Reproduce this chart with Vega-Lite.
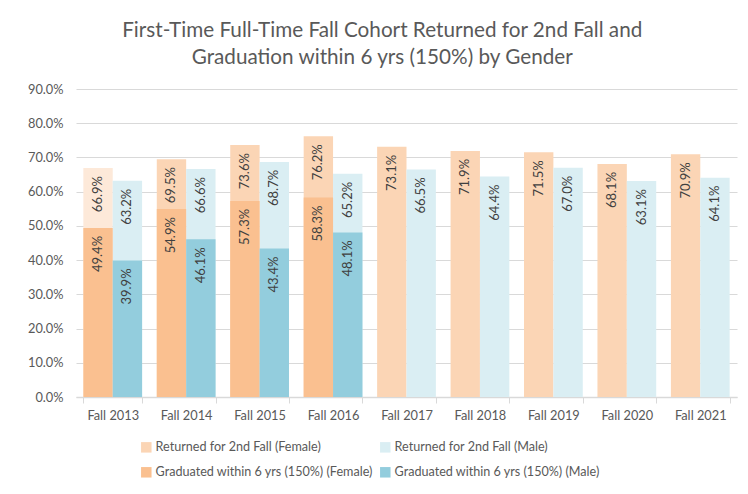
{
  "$schema": "https://vega.github.io/schema/vega-lite/v6.json",
  "autosize": "none",
  "width": 661,
  "height": 308,
  "padding": {"left": 76, "top": 89, "right": 11, "bottom": 97},
  "background": "white",
  "title": {
    "text": ["First-Time Full-Time Fall Cohort Returned for 2nd Fall and", "Graduation within 6 yrs (150%) by Gender"],
    "font": "Lato",
    "fontSize": 20.7,
    "fontWeight": "normal",
    "color": "#595959",
    "lineHeight": 27,
    "offset": 14,
    "anchor": "middle",
    "frame": "bounds"
  },
  "data": {
    "values": [
      {"year": "Fall 2013", "gender": "Female", "measure": "Returned", "series": "Returned for 2nd Fall (Female)", "value": 0.669},
      {"year": "Fall 2013", "gender": "Male", "measure": "Returned", "series": "Returned for 2nd Fall (Male)", "value": 0.632},
      {"year": "Fall 2013", "gender": "Female", "measure": "Graduated", "series": "Graduated within 6 yrs (150%) (Female)", "value": 0.494},
      {"year": "Fall 2013", "gender": "Male", "measure": "Graduated", "series": "Graduated within 6 yrs (150%) (Male)", "value": 0.399},
      {"year": "Fall 2014", "gender": "Female", "measure": "Returned", "series": "Returned for 2nd Fall (Female)", "value": 0.695},
      {"year": "Fall 2014", "gender": "Male", "measure": "Returned", "series": "Returned for 2nd Fall (Male)", "value": 0.666},
      {"year": "Fall 2014", "gender": "Female", "measure": "Graduated", "series": "Graduated within 6 yrs (150%) (Female)", "value": 0.549},
      {"year": "Fall 2014", "gender": "Male", "measure": "Graduated", "series": "Graduated within 6 yrs (150%) (Male)", "value": 0.461},
      {"year": "Fall 2015", "gender": "Female", "measure": "Returned", "series": "Returned for 2nd Fall (Female)", "value": 0.736},
      {"year": "Fall 2015", "gender": "Male", "measure": "Returned", "series": "Returned for 2nd Fall (Male)", "value": 0.687},
      {"year": "Fall 2015", "gender": "Female", "measure": "Graduated", "series": "Graduated within 6 yrs (150%) (Female)", "value": 0.573},
      {"year": "Fall 2015", "gender": "Male", "measure": "Graduated", "series": "Graduated within 6 yrs (150%) (Male)", "value": 0.434},
      {"year": "Fall 2016", "gender": "Female", "measure": "Returned", "series": "Returned for 2nd Fall (Female)", "value": 0.762},
      {"year": "Fall 2016", "gender": "Male", "measure": "Returned", "series": "Returned for 2nd Fall (Male)", "value": 0.652},
      {"year": "Fall 2016", "gender": "Female", "measure": "Graduated", "series": "Graduated within 6 yrs (150%) (Female)", "value": 0.583},
      {"year": "Fall 2016", "gender": "Male", "measure": "Graduated", "series": "Graduated within 6 yrs (150%) (Male)", "value": 0.481},
      {"year": "Fall 2017", "gender": "Female", "measure": "Returned", "series": "Returned for 2nd Fall (Female)", "value": 0.731},
      {"year": "Fall 2017", "gender": "Male", "measure": "Returned", "series": "Returned for 2nd Fall (Male)", "value": 0.665},
      {"year": "Fall 2018", "gender": "Female", "measure": "Returned", "series": "Returned for 2nd Fall (Female)", "value": 0.719},
      {"year": "Fall 2018", "gender": "Male", "measure": "Returned", "series": "Returned for 2nd Fall (Male)", "value": 0.644},
      {"year": "Fall 2019", "gender": "Female", "measure": "Returned", "series": "Returned for 2nd Fall (Female)", "value": 0.715},
      {"year": "Fall 2019", "gender": "Male", "measure": "Returned", "series": "Returned for 2nd Fall (Male)", "value": 0.670},
      {"year": "Fall 2020", "gender": "Female", "measure": "Returned", "series": "Returned for 2nd Fall (Female)", "value": 0.681},
      {"year": "Fall 2020", "gender": "Male", "measure": "Returned", "series": "Returned for 2nd Fall (Male)", "value": 0.631},
      {"year": "Fall 2021", "gender": "Female", "measure": "Returned", "series": "Returned for 2nd Fall (Female)", "value": 0.709},
      {"year": "Fall 2021", "gender": "Male", "measure": "Returned", "series": "Returned for 2nd Fall (Male)", "value": 0.641}
    ]
  },
  "encoding": {
    "x": {
      "field": "year",
      "type": "nominal",
      "sort": null,
      "scale": {"paddingInner": 0.2, "paddingOuter": 0.1},
      "axis": {
        "title": null,
        "labelAngle": 0,
        "labelFont": "Lato",
        "labelFontSize": 12.8,
        "labelColor": "#595959",
        "labelPadding": 6,
        "tickBand": "extent",
        "tickColor": "#D9D9D9",
        "tickSize": 6,
        "domainColor": "#D9D9D9",
        "domainWidth": 1.5,
        "grid": false
      }
    },
    "xOffset": {
      "field": "gender",
      "type": "nominal",
      "sort": ["Female", "Male"],
      "scale": {"paddingInner": 0, "paddingOuter": 0}
    },
    "y": {
      "field": "value",
      "type": "quantitative",
      "scale": {"domain": [0, 0.9]},
      "axis": {
        "title": null,
        "format": ".1%",
        "values": [0, 0.1, 0.2, 0.3, 0.4, 0.5, 0.6, 0.7, 0.8, 0.9],
        "labelFont": "Lato",
        "labelFontSize": 12.8,
        "labelColor": "#595959",
        "labelPadding": 13,
        "ticks": false,
        "domain": false,
        "gridColor": "#D9D9D9",
        "gridWidth": 1
      }
    }
  },
  "layer": [
    {
      "transform": [{"filter": "datum.measure === 'Returned'"}],
      "mark": {"type": "bar"},
      "encoding": {
        "color": {
          "condition": {"test": "datum.year === 'Fall 2013' && datum.gender === 'Female'", "value": "#FDE9D9"},
          "field": "series",
          "type": "nominal",
          "scale": {
            "domain": ["Returned for 2nd Fall (Female)", "Returned for 2nd Fall (Male)", "Graduated within 6 yrs (150%) (Female)", "Graduated within 6 yrs (150%) (Male)"],
            "range": ["#FBD5B5", "#DAEEF3", "#FAC090", "#93CDDD"]
          },
          "legend": {
            "title": null,
            "orient": "none",
            "legendX": 64,
            "legendY": 352,
            "direction": "horizontal",
            "columns": 2,
            "columnPadding": 6,
            "rowPadding": 12,
            "symbolType": "square",
            "symbolSize": 110,
            "symbolStrokeWidth": 0,
            "labelFont": "Lato",
            "labelFontSize": 12.6,
            "labelColor": "#595959",
            "labelLimit": 400,
            "labelOffset": 3
          }
        }
      }
    },
    {
      "transform": [{"filter": "datum.measure === 'Graduated'"}],
      "mark": {"type": "bar"},
      "encoding": {
        "color": {"field": "series", "type": "nominal"}
      }
    },
    {
      "mark": {
        "type": "text",
        "angle": 270,
        "align": "right",
        "baseline": "middle",
        "dx": -8,
        "font": "Lato",
        "fontSize": 13,
        "color": "#404040"
      },
      "encoding": {
        "text": {"field": "value", "type": "quantitative", "format": ".1%"}
      }
    }
  ],
  "config": {
    "view": {"stroke": null}
  }
}
